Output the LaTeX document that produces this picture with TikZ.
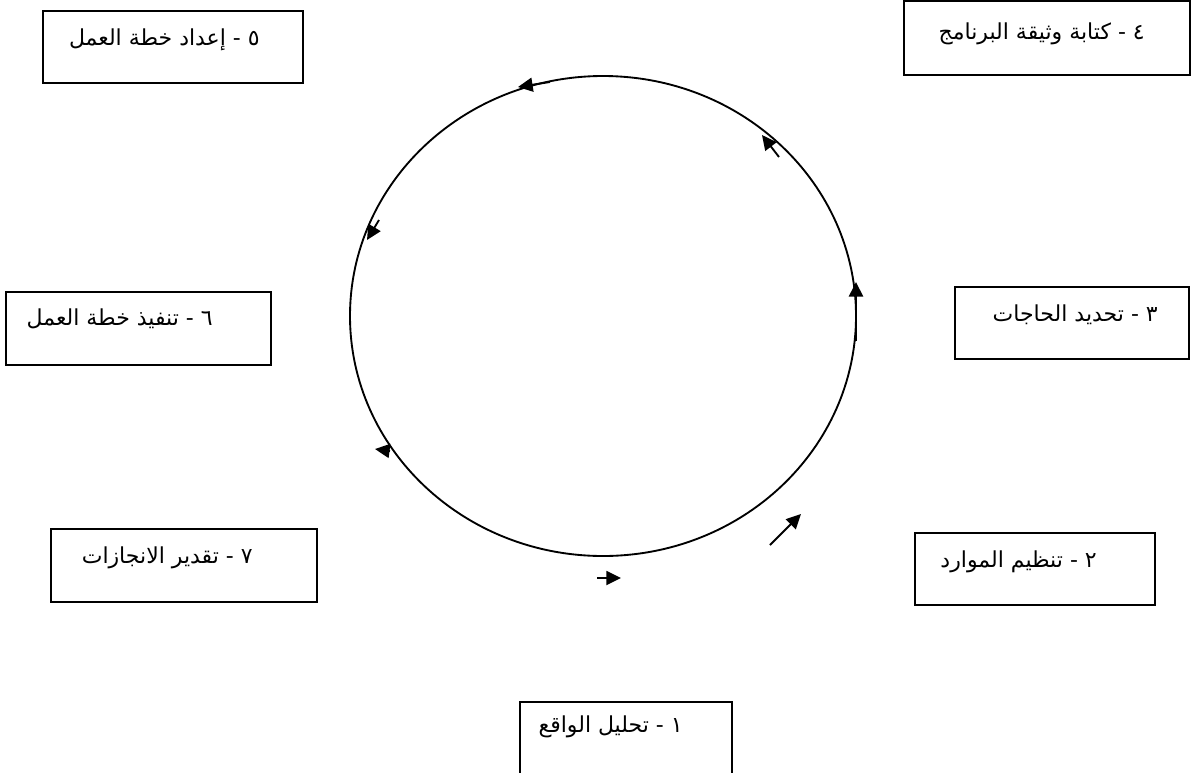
\documentclass[tikz,border=0pt]{standalone}
\usepackage{fontspec}
\newfontfamily\arabicfont[Script=Arabic]{DejaVu Sans}
\TeXXeTstate=1
\usetikzlibrary{arrows.meta,fit}

\begin{document}
\begin{tikzpicture}[
    x=0.75pt, y=-0.75pt,
    box/.style={draw, line width=1.4pt, inner sep=0pt},
    lbl/.style={anchor=base east, inner sep=0pt, font=\arabicfont\fontsize{16.5}{19}\selectfont},
    ring/.style={line width=1.4pt},
    arr/.style={-{Triangle[length=11pt,width=10.5pt]}, line width=1.4pt}
  ]
    \useasboundingbox (0,0) rectangle (1192,772);

    % stage boxes
    \node[box, fit={(43,11) (303,83)}] (b5) {};
    \node[box, fit={(904,1) (1190,75)}] (b4) {};
    \node[box, fit={(6,292) (271,365)}] (b6) {};
    \node[box, fit={(955,287) (1189,359)}] (b3) {};
    \node[box, fit={(51,529) (317,602)}] (b7) {};
    \node[box, fit={(915,533) (1155,605)}] (b2) {};
    \node[box, fit={(520,702) (732,800)}] (b1) {};

    \node[lbl] (t5) at (260,45) {\beginR ٥ - إعداد خطة العمل\endR};
    \node[lbl] (t4) at (1145,39) {\beginR ٤ - كتابة وثيقة البرنامج\endR};
    \node[lbl] (t6) at (213,325) {\beginR ٦ - تنفيذ خطة العمل\endR};
    \node[lbl] (t3) at (1158,321) {\beginR ٣ - تحديد الحاجات\endR};
    \node[lbl] (t7) at (253,563) {\beginR ٧ - تقدير الانجازات\endR};
    \node[lbl] (t2) at (1097,567) {\beginR ٢ - تنظيم الموارد\endR};
    \node[lbl] (t1) at (683,732) {\beginR ١ - تحليل الواقع\endR};

    % the cycle
    \draw[ring] (603,316) ellipse [x radius=253, y radius=240];

    \draw[arr] (550,82) -- (518,87);
    \draw[arr] (779,157) -- (762,135);
    \draw[arr, line width=2pt] (856,341) -- (856,282);
    \draw[arr] (379,220) -- (367,240);
    \draw[arr] (390,451) -- (375,449);
    \draw[arr] (597,578) -- (621,578);
    \draw[arr] (770,545) -- (801,514);
\end{tikzpicture}
\end{document}
